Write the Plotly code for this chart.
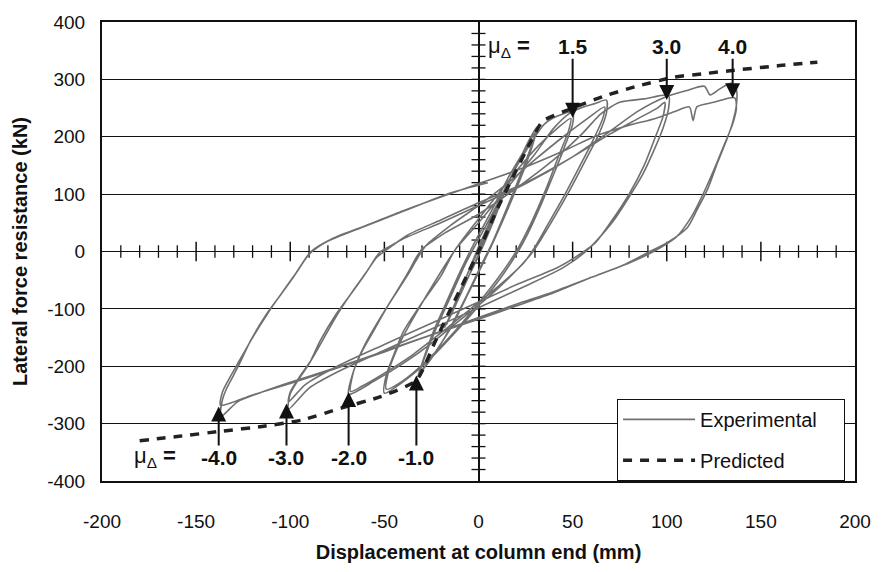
import plotly.graph_objects as go

# ---------------- data ----------------
# experimental hysteresis, one pair of lists per ductility level (mm, kN)
lvl05_x = [0, 6, 12, 17, 15, 7, 0, -8, -14, -18, -16, -8, 0, 8, 16, 14, 6, -2, -10, -17, -15, -6, 0]
lvl05_y = [0, 45, 90, 125, 112, 45, -8, -62, -105, -132, -118, -55, 3, 62, 122, 108, 40, -20, -78, -128, -112, -40, 8]

lvl10_x = [0, 10, 20, 27, 31, 30, 25, 17, 9, 4, -5, -15, -25, -32, -30, -24, -17, -9, -3, 6, 16, 25, 30, 29, 23, 15, 8, 2, -8, -18, -27, -31, -29, -23, -15, -7, -1]
lvl10_y = [8, 80, 148, 195, 217, 200, 150, 85, 25, -10, -70, -135, -185, -216, -195, -140, -88, -30, 10, 65, 130, 180, 207, 192, 140, 75, 20, -20, -88, -150, -195, -208, -188, -138, -80, -22, 15]

lvl15_x = [-1, 8, 18, 28, 35, 42, 50, 50, 46, 40, 33, 26, 21, 12, 0, -12, -25, -38, -50, -49, -45, -40, -31, -20, -13, -4, 8, 20, 32, 42, 49, 48, 43, 36, 28, 20, 10, -2, -15, -28, -40, -49, -48, -43, -35, -26, -17, -12]
lvl15_y = [15, 70, 135, 190, 222, 236, 243, 222, 185, 135, 80, 30, 0, -45, -95, -140, -185, -222, -247, -215, -180, -140, -94, -43, 0, 40, 90, 140, 185, 215, 232, 212, 170, 110, 50, 0, -48, -98, -148, -192, -225, -240, -212, -168, -118, -68, -20, 5]

lvl20_x = [-12, 0, 15, 30, 40, 48, 55, 62, 68, 68, 64, 57, 49, 40, 33, 29, 18, 5, -10, -25, -40, -55, -69, -67, -62, -56, -48, -38, -33, -28, -15, 0, 15, 30, 45, 58, 67, 66, 61, 54, 46, 37, 30, 24, 10, -5, -20, -35, -50, -62, -68, -66, -60, -53, -45, -38, -33, -30]
lvl20_y = [5, 50, 110, 170, 215, 240, 251, 258, 264, 242, 205, 160, 110, 58, 20, 0, -40, -80, -120, -160, -195, -225, -249, -215, -175, -140, -94, -43, -15, 10, 45, 80, 118, 160, 200, 232, 252, 232, 195, 150, 100, 48, 8, -20, -62, -102, -142, -180, -212, -235, -244, -205, -160, -120, -78, -40, -10, 5]

lvl30_x = [-30, -18, 0, 20, 40, 55, 65, 75, 88, 101, 101, 98, 93, 87, 80, 72, 63, 57, 45, 25, 0, -25, -50, -75, -90, -101, -100, -95, -90, -84, -76, -68, -61, -54, -50, -38, -20, 0, 25, 50, 70, 85, 95, 99, 98, 94, 88, 80, 70, 62, 56, 42, 20, 0, -25, -50, -75, -92, -101, -100, -95, -89, -82, -75, -67, -60, -54, -52]
lvl30_y = [5, 32, 65, 110, 160, 205, 240, 260, 266, 272, 250, 215, 175, 133, 95, 55, 20, 0, -28, -60, -98, -135, -172, -210, -238, -275, -248, -220, -196, -155, -111, -75, -43, -10, 0, 28, 55, 85, 120, 165, 205, 232, 250, 260, 235, 200, 150, 100, 50, 15, 0, -28, -58, -88, -125, -162, -200, -232, -262, -245, -218, -190, -150, -110, -70, -38, -8, 0]

lvl40_x = [-52, -40, -20, 0, 25, 50, 70, 85, 100, 110, 120, 123, 128, 134, 137, 137, 135, 132, 127, 122, 116, 111, 100, 91, 78, 60, 40, 20, 0, -20, -40, -60, -80, -100, -115, -128, -137, -136, -134, -130, -127, -121, -113, -105, -98, -89, -78, -60, -40, -20, 0, 27, 45, 62, 80, 94, 105, 112, 114, 116, 125, 136, 137, 135, 131, 126, 120, 113, 105, 93, 80, 60, 40, 20, 0, -25, -50, -75, -100, -120, -137, -136, -133, -128, -120, -112, -104, -97, -90, -80, -62, -40, -15, 5]
lvl40_y = [0, 22, 50, 80, 118, 165, 210, 245, 270, 280, 288, 273, 283, 293, 282, 255, 225, 196, 155, 111, 72, 42, 15, 0, -22, -45, -72, -95, -118, -140, -162, -185, -207, -228, -245, -262, -288, -258, -240, -215, -196, -155, -111, -75, -43, 0, 22, 45, 71, 95, 118, 150, 175, 201, 220, 232, 245, 252, 228, 252, 260, 268, 250, 222, 190, 150, 105, 60, 25, 0, -20, -45, -70, -92, -115, -145, -175, -203, -230, -250, -268, -245, -225, -196, -150, -108, -70, -38, -5, 18, 42, 70, 102, 120]

# predicted backbone (mm, kN)
pred_x = [-180, -159, -136, -115, -94, -73, -52, -33, -23, -13, 0, 9.5, 18, 28, 34, 50, 66, 83, 104, 120, 136, 160, 180]
pred_y = [-330, -322, -313, -305, -294, -273, -253, -225, -157, -88, 0, 71, 128, 193, 227, 250, 270, 287, 304, 310, 316, 324, 330]

# ductility markers: label, arrow tip (x, y)
mu_pos_labels = ["1.5", "3.0", "4.0"]
mu_pos_x = [50, 100, 135]
mu_pos_y = [233, 264, 267]
mu_neg_labels = ["-4.0", "-3.0", "-2.0", "-1.0"]
mu_neg_x = [-138, -102, -69, -33]
mu_neg_y = [-270, -265, -245, -216]

# axis tick values and labels (hyphen minus as in the reference)
x_ticks = [-200, -150, -100, -50, 0, 50, 100, 150, 200]
x_ticktext = ["-200", "-150", "-100", "-50", "0", "50", "100", "150", "200"]
y_ticks = [-400, -300, -200, -100, 0, 100, 200, 300, 400]
y_ticktext = ["-400", "-300", "-200", "-100", "0", "100", "200", "300", "400"]
x_minor = [v for v in range(-190, 200, 10) if v % 50 != 0]
x_major = [v for v in x_ticks if v not in (-200, 0, 200)]
y_marks = [v for v in range(-380, 400, 20) if v != 0]

FONT = "Liberation Sans, Arial, Helvetica, sans-serif"
GREY = "rgb(112,112,112)"
INK = "#111"
PAD = "\u00a0" * 4

exp_x = lvl05_x + lvl10_x + lvl15_x + lvl20_x + lvl30_x + lvl40_x
exp_y = lvl05_y + lvl10_y + lvl15_y + lvl20_y + lvl30_y + lvl40_y

fig = go.Figure()

# cross ticks on the zero axes
fig.add_trace(go.Scatter(x=x_minor, y=[0] * len(x_minor), mode="markers", showlegend=False, hoverinfo="skip",
                         marker=dict(symbol="line-ns", size=9, line=dict(width=1.3, color=INK))))
fig.add_trace(go.Scatter(x=x_major, y=[0] * len(x_major), mode="markers", showlegend=False, hoverinfo="skip",
                         marker=dict(symbol="line-ns", size=14, line=dict(width=1.5, color=INK))))
fig.add_trace(go.Scatter(x=[0] * len(y_marks), y=y_marks, mode="markers", showlegend=False, hoverinfo="skip",
                         marker=dict(symbol="line-ew", size=10, line=dict(width=1.3, color=INK))))

fig.add_trace(go.Scatter(x=exp_x, y=exp_y, mode="lines", name="Experimental" + PAD,
                         line=dict(color=GREY, width=1.6, shape="spline", smoothing=0.7),
                         legendgroup="a"))
fig.add_trace(go.Scatter(x=pred_x, y=pred_y, mode="lines", name="Predicted",
                         line=dict(color="#222", width=3.5, dash="9px,8px", shape="spline", smoothing=0.5),
                         legendgroup="b"))

LABEL_FONT = dict(family=FONT, size=21, color=INK)
annotations = []
# top labels
annotations.append(dict(x=4, y=357, xref="x", yref="y", text="μ<sub>Δ</sub> <b>=</b>", showarrow=False,
                        xanchor="left", yanchor="middle", font=dict(family=FONT, size=22, color=INK)))
for lab, tx, ty in zip(mu_pos_labels, mu_pos_x, mu_pos_y):
    annotations.append(dict(x=tx, y=ty, xref="x", yref="y", ax=tx, ay=357, axref="x", ayref="y",
                            text="<b>%s</b>" % lab, font=LABEL_FONT, showarrow=True,
                            arrowhead=2, arrowsize=1.5, arrowwidth=2, arrowcolor=INK,
                            standoff=0, borderpad=0))
# bottom labels
annotations.append(dict(x=-184, y=-359, xref="x", yref="y", text="μ<sub>Δ</sub> <b>=</b>", showarrow=False,
                        xanchor="left", yanchor="middle", font=dict(family=FONT, size=22, color=INK)))
for lab, tx, ty in zip(mu_neg_labels, mu_neg_x, mu_neg_y):
    annotations.append(dict(x=tx, y=ty, xref="x", yref="y", ax=tx, ay=-359, axref="x", ayref="y",
                            text="<b>%s</b>" % lab, font=LABEL_FONT, showarrow=True,
                            arrowhead=2, arrowsize=1.5, arrowwidth=2, arrowcolor=INK,
                            standoff=0, borderpad=0))

fig.update_layout(
    width=883, height=572,
    margin=dict(l=102, r=21, t=17, b=86),
    paper_bgcolor="white", plot_bgcolor="white",
    font=dict(family=FONT, size=19, color=INK),
    annotations=annotations,
    showlegend=True,
    legend=dict(x=0.684, y=0.179, xanchor="left", yanchor="top", bgcolor="white",
                bordercolor=INK, borderwidth=1, font=dict(family=FONT, size=20, color=INK),
                tracegroupgap=12, itemwidth=72),
    xaxis=dict(range=[-200, 200], tickvals=x_ticks, ticktext=x_ticktext, ticks="outside", ticklen=22,
               tickcolor="rgba(0,0,0,0)",
               showgrid=False, zeroline=True, zerolinecolor=INK, zerolinewidth=1.5,
               showline=True, mirror=True, linecolor=INK, linewidth=2,
               tickfont=dict(family=FONT, size=19, color=INK),
               title=dict(text="<b>Displacement at column end (mm)</b>", standoff=14,
                          font=dict(family=FONT, size=20, color=INK))),
    yaxis=dict(range=[-400, 400], tickvals=y_ticks, ticktext=y_ticktext, ticks="outside", ticklen=11,
               tickcolor="rgba(0,0,0,0)",
               showgrid=True, gridcolor=INK, gridwidth=1,
               zeroline=True, zerolinecolor=INK, zerolinewidth=1.2,
               showline=True, mirror=True, linecolor=INK, linewidth=2,
               tickfont=dict(family=FONT, size=19, color=INK),
               title=dict(text="<b>Lateral force resistance (kN)</b>", standoff=14,
                          font=dict(family=FONT, size=20, color=INK))),
)

fig.write_html("out.html")
